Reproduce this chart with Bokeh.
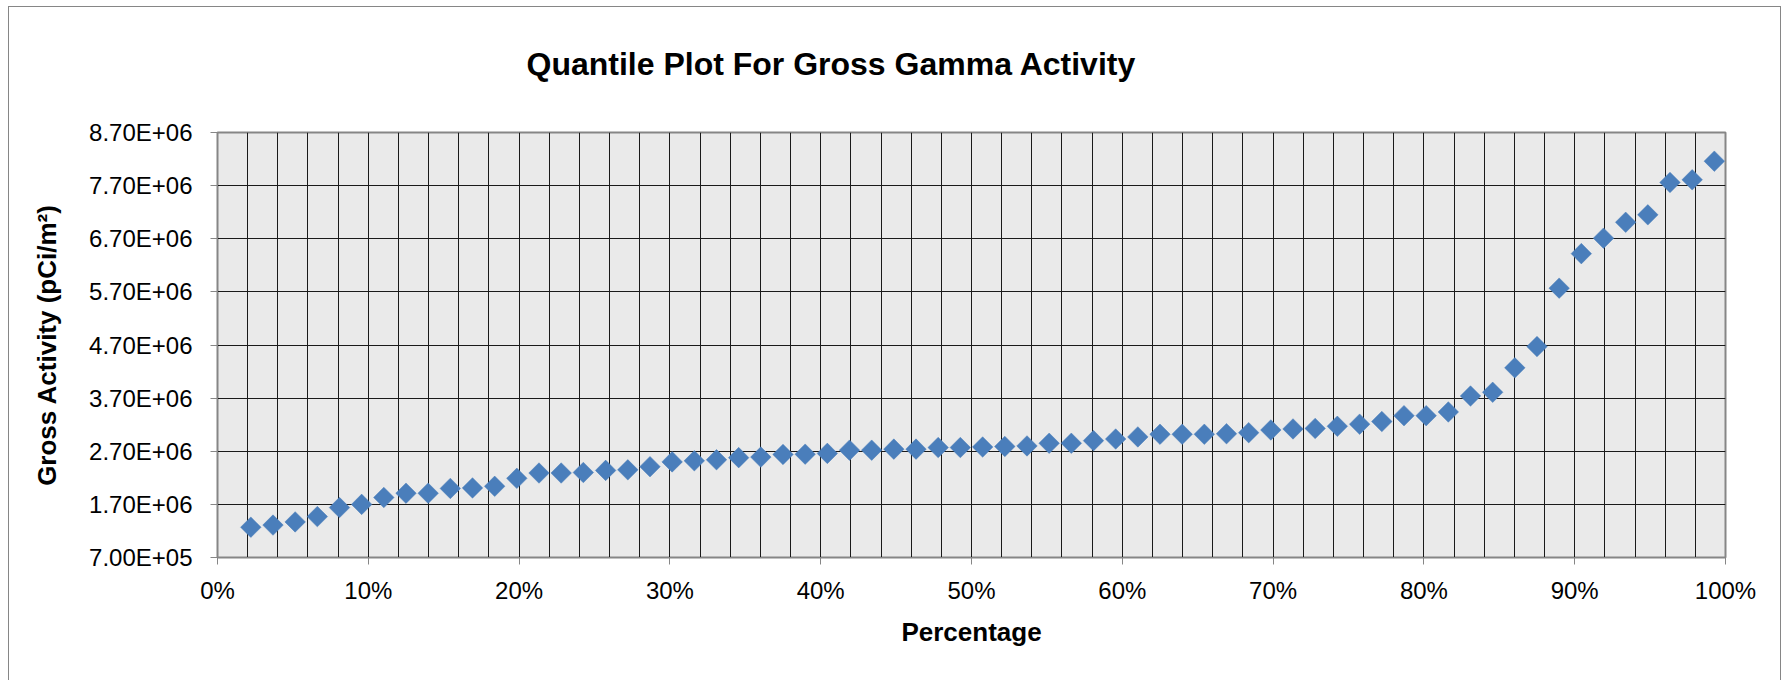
from bokeh.plotting import figure
from bokeh.models import Range1d, FixedTicker, Title
from bokeh.embed import file_html
from bokeh.resources import INLINE

# ---- data ----
percentage = [2.21, 3.68, 5.15, 6.62, 8.09, 9.56, 11.03, 12.50, 13.97, 15.44,
              16.91, 18.38, 19.85, 21.32, 22.79, 24.26, 25.74, 27.21, 28.68, 30.15,
              31.62, 33.09, 34.56, 36.03, 37.50, 38.97, 40.44, 41.91, 43.38, 44.85,
              46.32, 47.79, 49.26, 50.74, 52.21, 53.68, 55.15, 56.62, 58.09, 59.56,
              61.03, 62.50, 63.97, 65.44, 66.91, 68.38, 69.85, 71.32, 72.79, 74.26,
              75.74, 77.21, 78.68, 80.15, 81.62, 83.09, 84.56, 86.03, 87.50, 88.97,
              90.44, 91.91, 93.38, 94.85, 96.32, 97.79, 99.26]
gross_activity = [1.27e6, 1.31e6, 1.37e6, 1.47e6, 1.64e6, 1.70e6, 1.83e6, 1.91e6, 1.91e6, 2.00e6,
                  2.01e6, 2.04e6, 2.19e6, 2.29e6, 2.29e6, 2.30e6, 2.34e6, 2.35e6, 2.41e6, 2.50e6,
                  2.52e6, 2.54e6, 2.58e6, 2.59e6, 2.64e6, 2.645e6, 2.66e6, 2.72e6, 2.72e6, 2.74e6,
                  2.74e6, 2.77e6, 2.77e6, 2.78e6, 2.79e6, 2.80e6, 2.85e6, 2.85e6, 2.90e6, 2.93e6,
                  2.97e6, 3.02e6, 3.02e6, 3.02e6, 3.03e6, 3.05e6, 3.10e6, 3.12e6, 3.13e6, 3.17e6,
                  3.21e6, 3.26e6, 3.37e6, 3.37e6, 3.44e6, 3.74e6, 3.81e6, 4.27e6, 4.67e6, 5.77e6,
                  6.42e6, 6.71e6, 7.01e6, 7.15e6, 7.76e6, 7.81e6, 8.16e6]

y_tick_values = [700000, 1700000, 2700000, 3700000, 4700000, 5700000, 6700000, 7700000, 8700000]
y_tick_labels = ["7.00E+05", "1.70E+06", "2.70E+06", "3.70E+06", "4.70E+06",
                 "5.70E+06", "6.70E+06", "7.70E+06", "8.70E+06"]
x_tick_values = [0, 10, 20, 30, 40, 50, 60, 70, 80, 90, 100]
x_tick_labels = ["0%", "10%", "20%", "30%", "40%", "50%", "60%", "70%", "80%", "90%", "100%"]
x_grid_values = list(range(0, 101, 2))

title_text = "Quantile Plot For Gross Gamma Activity"
x_title = "Percentage"
y_title = "Gross Activity (pCi/m\u00b2)"

FONT = "Liberation Sans"

p = figure(width=1773, height=674, output_backend="svg", toolbar_location=None,
           x_range=Range1d(0, 100), y_range=Range1d(700000, 8700000),
           min_border_left=208, min_border_right=57, min_border_top=125, min_border_bottom=124)
p.title = None

p.background_fill_color = "#eaeaea"
p.border_fill_color = "white"
p.outline_line_color = "#868686"
p.outline_line_width = 2
p.styles = {"border-left": "1px solid #868686", "border-top": "1px solid #868686",
            "border-right": "1px solid #868686", "margin-left": "8px", "margin-top": "6px"}

# title
title = Title(text=title_text, align="left", offset=309, vertical_align="top",
              standoff=0, text_font=FONT, text_font_size="32px",
              text_font_style="bold", text_color="black")
try:
    title.padding = (0, 0, 0, 49)
except Exception:
    title.standoff = 87
p.add_layout(title, "above")

# axes
p.xaxis.ticker = FixedTicker(ticks=x_tick_values)
p.xaxis.major_label_overrides = {v: s for v, s in zip(x_tick_values, x_tick_labels)}
p.yaxis.ticker = FixedTicker(ticks=y_tick_values)
p.yaxis.major_label_overrides = {v: s for v, s in zip(y_tick_values, y_tick_labels)}

for ax in (p.xaxis, p.yaxis):
    ax.axis_line_color = "#868686"
    ax.axis_line_width = 1
    ax.major_tick_line_color = "#868686"
    ax.major_tick_out = 7
    ax.major_tick_in = 0
    ax.minor_tick_line_color = None
    ax.major_label_text_font = FONT
    ax.major_label_text_font_size = "24px"
    ax.major_label_text_color = "black"
    ax.axis_label_text_font = FONT
    ax.axis_label_text_font_size = "26px"
    ax.axis_label_text_font_style = "bold"
    ax.axis_label_text_color = "black"

p.xaxis.axis_label = x_title
p.yaxis.axis_label = y_title
p.xaxis.major_label_standoff = 12
p.yaxis.major_label_standoff = 18
p.xaxis.axis_label_standoff = 10
p.yaxis.axis_label_standoff = 24

# grid
p.xgrid.ticker = FixedTicker(ticks=x_grid_values)
p.xgrid.grid_line_color = "#1a1a1a"
p.xgrid.grid_line_width = 1
p.ygrid.grid_line_color = "#1a1a1a"
p.ygrid.grid_line_width = 1.2

# data
p.scatter(percentage, gross_activity, marker="square", angle=0.785398, size=14.5,
          fill_color="#4a7ebb", line_color="#4a7ebb", line_width=0.5)

open("out.html", "w").write(file_html(p, INLINE))
